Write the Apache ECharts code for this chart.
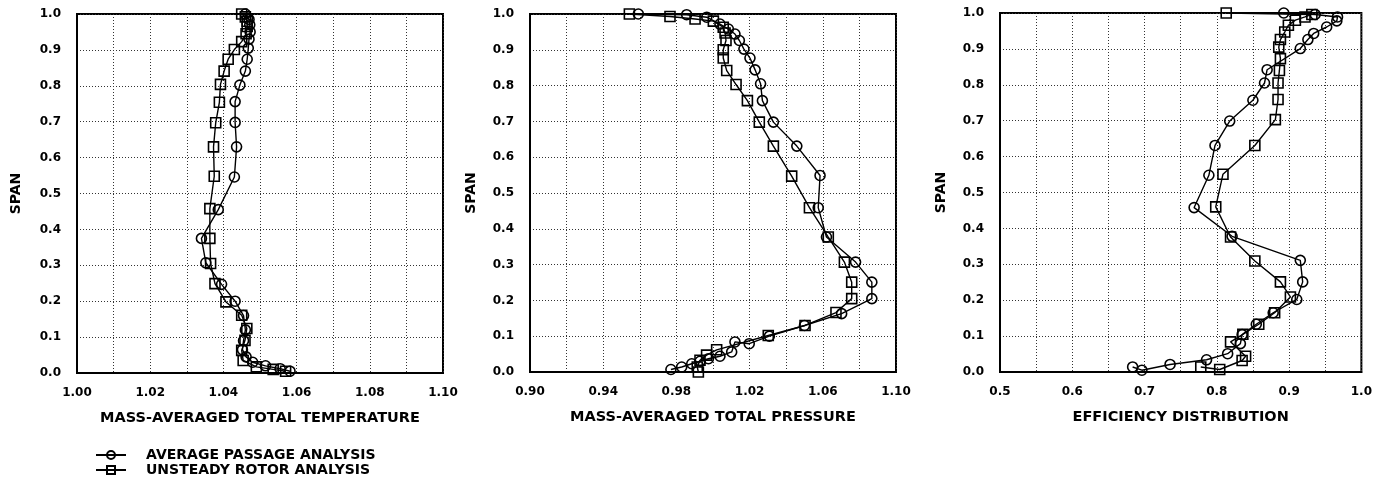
<!DOCTYPE html>
<html>
<head>
<meta charset="utf-8">
<script src="https://cdn.jsdelivr.net/npm/echarts@6/dist/echarts.min.js"></script>
<style>
html,body{margin:0;padding:0;background:#fff;}
#chart{width:1375px;height:486px;}
</style>
</head>
<body>
<div id="chart"></div>
<script>
// ---------- DATA ----------
const seriesNames = ['AVERAGE PASSAGE ANALYSIS', 'UNSTEADY ROTOR ANALYSIS'];
const xTitles = ['MASS-AVERAGED TOTAL TEMPERATURE', 'MASS-AVERAGED TOTAL PRESSURE', 'EFFICIENCY DISTRIBUTION'];
const yTitle = 'SPAN';

// Panel 1: total temperature
const tempAvgSpan = [0.005, 0.012, 0.02, 0.03, 0.045, 0.065, 0.09, 0.12, 0.16, 0.20, 0.247, 0.307, 0.375, 0.455, 0.546, 0.630, 0.698, 0.756, 0.802, 0.841, 0.874, 0.905, 0.93, 0.95, 0.97, 0.985, 1.0];
const tempAvg     = [1.0582, 1.0555, 1.0515, 1.048, 1.0462, 1.0452, 1.0455, 1.046, 1.0455, 1.0432, 1.0395, 1.0352, 1.034, 1.0386, 1.043, 1.0436, 1.0432, 1.0432, 1.0445, 1.046, 1.0465, 1.0468, 1.047, 1.0473, 1.0472, 1.047, 1.046];
const tempUnsSpan = [0.005, 0.01, 0.017, 0.035, 0.063, 0.091, 0.124, 0.161, 0.198, 0.249, 0.305, 0.375, 0.458, 0.548, 0.630, 0.697, 0.754, 0.804, 0.841, 0.874, 0.901, 0.923, 0.945, 0.965, 0.98, 0.992, 1.0];
const tempUns     = [1.057, 1.0536, 1.049, 1.0454, 1.045, 1.0459, 1.0464, 1.045, 1.0407, 1.0377, 1.0365, 1.0363, 1.0363, 1.0375, 1.0373, 1.0379, 1.0389, 1.0392, 1.0402, 1.0413, 1.043, 1.045, 1.0462, 1.0465, 1.0465, 1.046, 1.045];

// Panel 2: total pressure
const presAvgSpan = [0.007, 0.014, 0.023, 0.030, 0.037, 0.044, 0.056, 0.084, 0.079, 0.100, 0.130, 0.163, 0.205, 0.251, 0.307, 0.377, 0.459, 0.549, 0.631, 0.698, 0.758, 0.805, 0.844, 0.877, 0.902, 0.926, 0.944, 0.958, 0.972, 0.991, 0.998, 1.0];
const presAvg     = [0.977, 0.9829, 0.9884, 0.9929, 0.9975, 1.0038, 1.0102, 1.012, 1.0198, 1.0308, 1.050, 1.0703, 1.0868, 1.0868, 1.0779, 1.062, 1.0575, 1.0585, 1.0458, 1.033, 1.027, 1.026, 1.023, 1.0202, 1.0169, 1.0144, 1.012, 1.0084, 1.0038, 0.9966, 0.9856, 0.9592];
const presUnsSpan = [0.0, 0.014, 0.033, 0.047, 0.062, 0.102, 0.130, 0.166, 0.205, 0.251, 0.307, 0.377, 0.459, 0.547, 0.631, 0.698, 0.758, 0.803, 0.842, 0.877, 0.900, 0.926, 0.947, 0.963, 0.980, 0.986, 0.993, 1.0];
const presUns     = [0.992, 0.9914, 0.9929, 0.9965, 1.002, 1.0302, 1.0503, 1.0672, 1.0758, 1.0758, 1.0718, 1.063, 1.0527, 1.043, 1.033, 1.0253, 1.0188, 1.0126, 1.0075, 1.0056, 1.0056, 1.0071, 1.0066, 1.0056, 1.0002, 0.9902, 0.9765, 0.9543];

// Panel 3: efficiency
const effAvgSpan = [0.014, 0.005, 0.021, 0.034, 0.051, 0.079, 0.104, 0.133, 0.165, 0.202, 0.251, 0.311, 0.378, 0.458, 0.548, 0.631, 0.699, 0.757, 0.805, 0.842, 0.901, 0.926, 0.943, 0.961, 0.978, 0.989, 0.996, 1.0];
const effAvg     = [0.6835, 0.6963, 0.7353, 0.7858, 0.815, 0.8326, 0.835, 0.8546, 0.878, 0.9106, 0.9188, 0.9155, 0.8211, 0.7686, 0.789, 0.7975, 0.8178, 0.8499, 0.866, 0.8696, 0.9155, 0.926, 0.934, 0.952, 0.966, 0.967, 0.936, 0.8926];
const effUnsSpan = [0.014, 0.007, 0.032, 0.044, 0.084, 0.105, 0.133, 0.165, 0.209, 0.251, 0.309, 0.376, 0.460, 0.551, 0.631, 0.703, 0.759, 0.805, 0.840, 0.873, 0.905, 0.926, 0.947, 0.966, 0.980, 0.989, 0.996, 1.0];
const effUns     = [0.7778, 0.804, 0.835, 0.8398, 0.819, 0.836, 0.858, 0.880, 0.9018, 0.888, 0.8526, 0.819, 0.7985, 0.8085, 0.8526, 0.881, 0.8847, 0.8847, 0.8866, 0.888, 0.8857, 0.888, 0.894, 0.899, 0.9087, 0.922, 0.9315, 0.813];

// Axis ranges and tick labels
const tempTicks = [1.00, 1.02, 1.04, 1.06, 1.08, 1.10];
const presTicks = [0.90, 0.94, 0.98, 1.02, 1.06, 1.10];
const effTicks  = [0.5, 0.6, 0.7, 0.8, 0.9, 1.0];
const spanTicks = [0.0, 0.1, 0.2, 0.3, 0.4, 0.5, 0.6, 0.7, 0.8, 0.9, 1.0];

// ---------- CHART ----------
const FONT = '"DejaVu Sans", "Liberation Sans", Arial, sans-serif';
const zip = (xs, ys) => xs.map((x, i) => [x, ys[i]]);

function labeler(ticks, digits) {
  return function (v) {
    for (const t of ticks) if (Math.abs(v - t) < 1e-6) return t.toFixed(digits);
    return '';
  };
}

const grids = [
  {left: 77, top: 14, width: 366, height: 359},
  {left: 530, top: 14, width: 366, height: 358},
  {left: 1000, top: 13, width: 363, height: 359}
];
const xConf = [
  {min: 1.00, max: 1.10, interval: 0.01, ticks: tempTicks, digits: 2},
  {min: 0.90, max: 1.10, interval: 0.02, ticks: presTicks, digits: 2},
  {min: 0.50, max: 1.00, interval: 0.05, ticks: effTicks, digits: 1}
];
const yGaps = [54, 52, 52];

const dotted = {show: true, lineStyle: {color: '#333', width: 1, type: [1, 2]}};

const legendText = {fontFamily: FONT, fontWeight: 'bold', fontSize: 14, color: '#000', padding: [0, 0, 0, 15]};

const option = {
  animation: false,
  backgroundColor: '#fff',
  grid: grids.map(g => Object.assign({show: true, borderColor: '#000', borderWidth: 2, backgroundColor: 'transparent'}, g)),
  xAxis: xConf.map((c, i) => ({
    type: 'value', gridIndex: i, min: c.min, max: c.max, interval: c.interval,
    name: xTitles[i], nameLocation: 'middle', nameGap: 38,
    nameTextStyle: {fontFamily: FONT, fontWeight: 'bold', fontSize: 14.5, color: '#000'},
    axisLine: {show: true, lineStyle: {color: '#000', width: 2}},
    axisTick: {show: false},
    axisLabel: {margin: 14, fontFamily: FONT, fontWeight: 'bold', fontSize: 12, color: '#000',
      formatter: labeler(c.ticks, c.digits), showMinLabel: true, showMaxLabel: true},
    splitLine: dotted
  })),
  yAxis: [0, 1, 2].map(i => ({
    type: 'value', gridIndex: i, min: 0, max: 1, interval: 0.1,
    name: yTitle, nameLocation: 'middle', nameGap: yGaps[i], nameRotate: 90,
    nameTextStyle: {fontFamily: FONT, fontWeight: 'bold', fontSize: 14, color: '#000'},
    axisLine: {show: true, lineStyle: {color: '#000', width: 2}},
    axisTick: {show: false},
    axisLabel: {margin: 16, fontFamily: FONT, fontWeight: 'bold', fontSize: 12, color: '#000',
      formatter: labeler(spanTicks, 1), showMinLabel: true, showMaxLabel: true},
    splitLine: dotted
  })),
  legend: [
    {left: 95, top: 448, padding: 0, itemWidth: 30, itemHeight: 10, data: [seriesNames[0]], textStyle: legendText},
    {left: 95, top: 463, padding: 0, itemWidth: 30, itemHeight: 10, data: [seriesNames[1]], textStyle: legendText}
  ],
  series: []
};

const panels = [
  [zip(tempAvg, tempAvgSpan), zip(tempUns, tempUnsSpan)],
  [zip(presAvg, presAvgSpan), zip(presUns, presUnsSpan)],
  [zip(effAvg, effAvgSpan), zip(effUns, effUnsSpan)]
];
const symbols = ['circle', 'rect'];
panels.forEach((pair, p) => {
  pair.forEach((data, s) => {
    option.series.push({
      type: 'line', name: seriesNames[s], xAxisIndex: p, yAxisIndex: p,
      data: data, symbol: symbols[s], symbolSize: 10, showSymbol: true,
      lineStyle: {color: '#000', width: 1.4},
      itemStyle: {color: 'rgba(255,255,255,0)', borderColor: '#000', borderWidth: 1.6},
      emphasis: {disabled: true}
    });
  });
});

const chart = echarts.init(document.getElementById('chart'), null, {renderer: 'canvas'});
chart.setOption(option);
</script>
</body>
</html>
